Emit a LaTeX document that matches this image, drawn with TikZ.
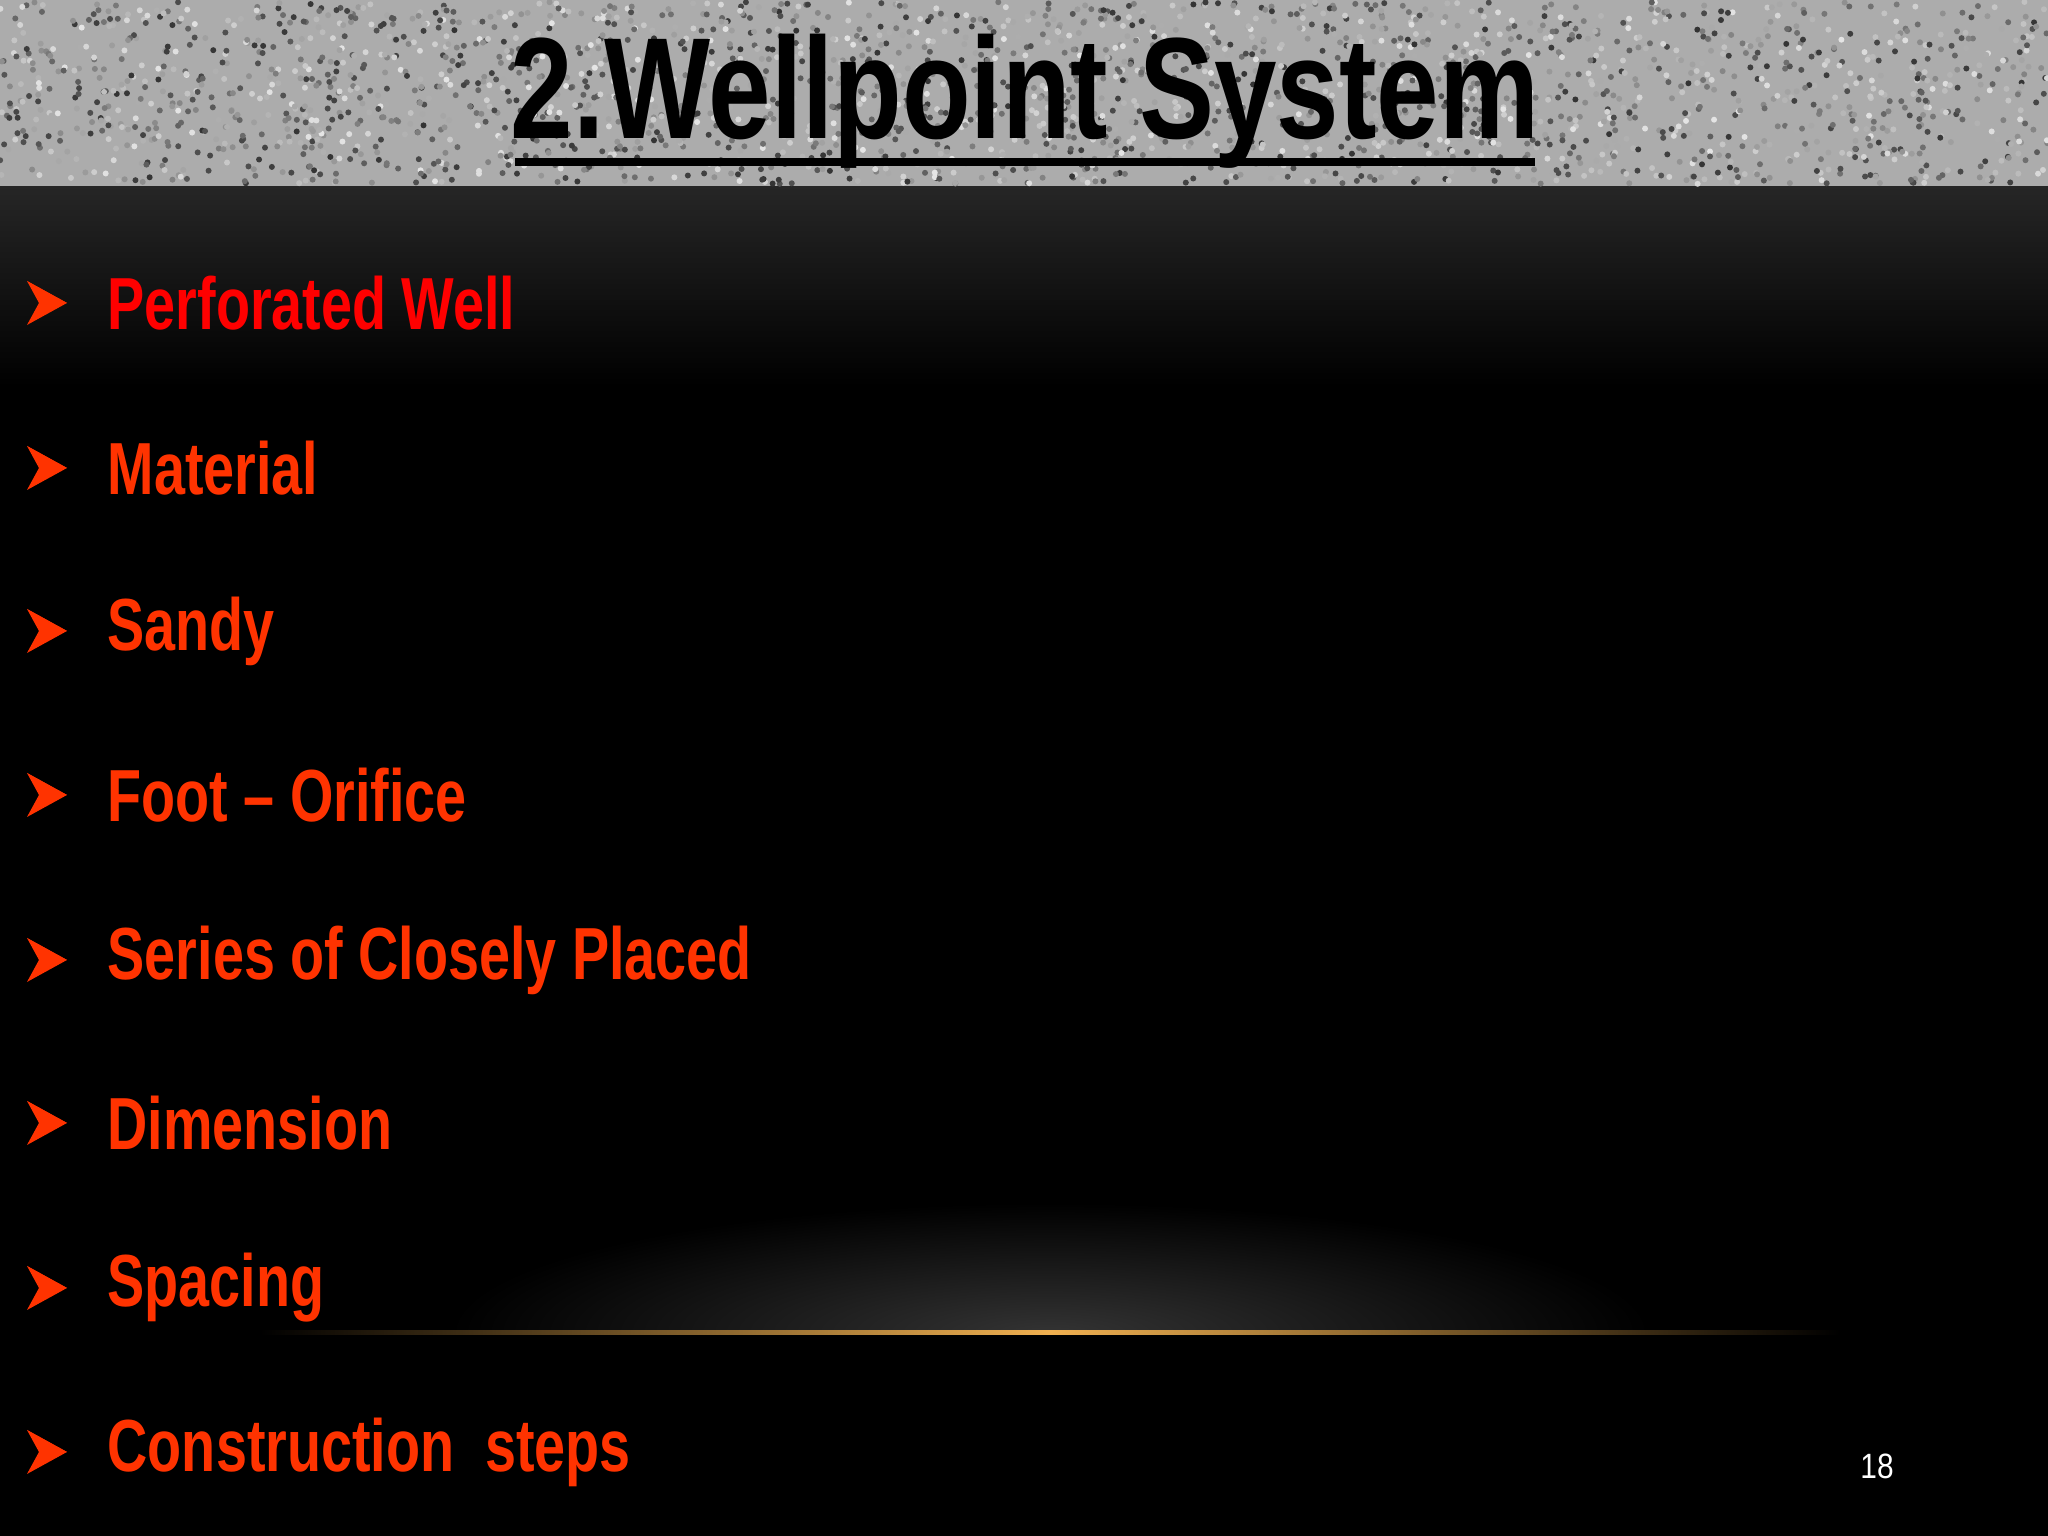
\documentclass[tikz,border=0pt]{standalone}
\usepackage{fontspec}
\setmainfont{Liberation Sans}
\usetikzlibrary{shadings,calc}
\definecolor{bul}{HTML}{FF3300}
\definecolor{gold}{HTML}{F0B050}
\tikzset{
  item/.style={anchor=west,inner sep=0pt,font=\fontsize{21}{24}\selectfont\bfseries,text=bul},
}
\newcommand{\mybullet}[1]{%
  \fill[bul] ($(#1)+(-0.8,0.22)$) -- ($(#1)+(-0.4,0)$) -- ($(#1)+(-0.8,-0.22)$) -- ($(#1)+(-0.68,0)$) -- cycle;
  \fill[bul] ($(#1)+(-0.8,0.22)$) -- ($(#1)+(-0.4,0)$) -- ($(#1)+(-0.55,0)$) -- cycle;}
\begin{document}
\begin{tikzpicture}
\useasboundingbox (0,0) rectangle (20.48,15.36);
\fill[black] (0,0) rectangle (20.48,13.5);
\shade[top color=black!85,bottom color=black] (0,11.5) rectangle (20.48,13.51);
% glow
\begin{scope}
\clip (0,2.03) rectangle (20.48,5);
\shade[inner color=black!80,outer color=black] (10.5,2.03) ellipse (6 and 1.3);
\end{scope}
\shade[left color=black, right color=gold] (2.6,2.01) rectangle (10.5,2.05);
\shade[left color=gold, right color=black] (10.5,2.01) rectangle (18.4,2.05);
% title band
\fill[gray!65] (0,13.5) rectangle (20.48,15.36);
\pgfmathsetseed{7}
\foreach \i in {1,...,2600}{
  \pgfmathsetmacro\x{rnd*20.48}\pgfmathsetmacro\y{13.52+rnd*1.82}\pgfmathsetmacro\c{rnd*70+10}
  \fill[black!\c] (\x,\y) circle (0.03);}
\node[font=\fontsize{41}{44}\selectfont\bfseries,inner sep=0pt] (title) at (10.25,14.35)
  {\scalebox{0.78}[1]{2.Wellpoint System}};
\draw[line width=2.5pt] (5.15,13.74) -- (15.35,13.74);
% items
\foreach \n/\y/\t/\c in {1/12.33/Perforated Well/red,2/10.68/Material/bul,3/9.05/Sandy/bul,4/7.41/Foot -- Orifice/bul,5/5.76/Series of Closely Placed/bul,6/4.13/Dimension/bul,7/2.48/Spacing/bul,8/0.84/Construction\ \ steps/bul}{
  \node[item,text=\c] (i\n) at (1.07,\y) {\scalebox{0.755}[1]{\t}};
  \mybullet{i\n.west}
}
\node[text=white,font=\fontsize{10}{12}\selectfont] (pg) at (18.77,0.7) {\scalebox{0.85}[1]{18}};
\end{tikzpicture}
\end{document}
